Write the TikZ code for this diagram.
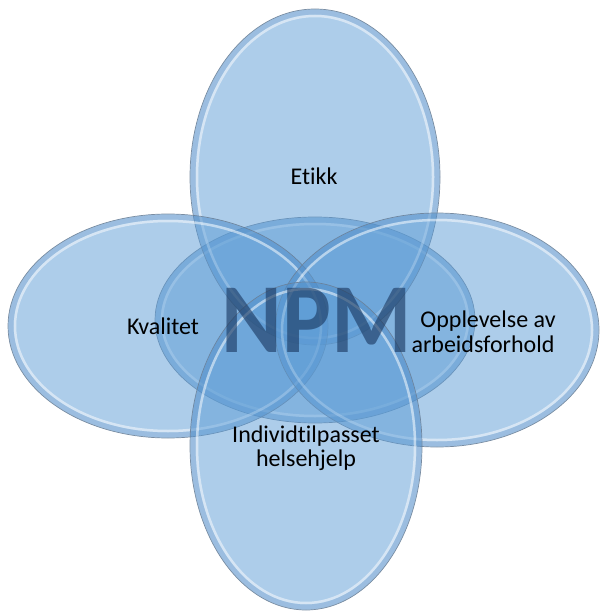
\documentclass[tikz,border=0pt]{standalone}
\usepackage{fontspec}
\setmainfont{Carlito}[Ligatures=NoCommon]
\definecolor{ellfill}{RGB}{91,155,213}
\definecolor{ellrim}{RGB}{105,125,148}
\definecolor{ellband}{RGB}{60,110,170}
\definecolor{npmcol}{RGB}{25,55,95}
\newcommand\vennell[4]{%
  \fill[ellfill, fill opacity=0.5] (#1,#2) ellipse [x radius=#3pt, y radius=#4pt];
  \draw[ellband, opacity=0.16, line width=5pt] (#1,#2) ellipse [x radius=#3pt-3pt, y radius=#4pt-3pt];
  \draw[white, opacity=0.5, line width=2.5pt] (#1,#2) ellipse [x radius=#3pt-7pt, y radius=#4pt-7pt];
  \draw[ellrim, line width=0.7pt, opacity=0.85] (#1,#2) ellipse [x radius=#3pt, y radius=#4pt];
}
\tikzset{
  lbl/.style={font=\fontsize{24}{26}\selectfont, text=black, inner sep=0pt, anchor=base},
  npmtext/.style={font=\fontsize{99}{99}\selectfont\bfseries, text=npmcol, text opacity=0.62, inner sep=0pt, anchor=base}
}
\begin{document}
\begin{tikzpicture}[x=1pt,y=-1pt]
\useasboundingbox (0,0) rectangle (601,612);
% ellipses
\vennell{315}{320}{160}{103}
\vennell{315}{177}{125}{168}
\vennell{168}{326}{160}{112}
\vennell{437}{330}{162}{117}
\vennell{306}{446}{116}{164}
% labels
\node[lbl] (etikk) at (314,185) {Etikk};
\node[lbl] (kval) at (163,334) {Kvalitet};
\node[lbl] (opp1) at (488,327) {Opplevelse av};
\node[lbl] (opp2) at (483,352) {arbeidsforhold};
\node[lbl] (ind1) at (306,442) {Individtilpasset};
\node[lbl] (ind2) at (306,466) {helsehjelp};
\node[npmtext] (npm) at (317,352) {\scalebox{0.93}[1]{NPM}};
\end{tikzpicture}
\end{document}
